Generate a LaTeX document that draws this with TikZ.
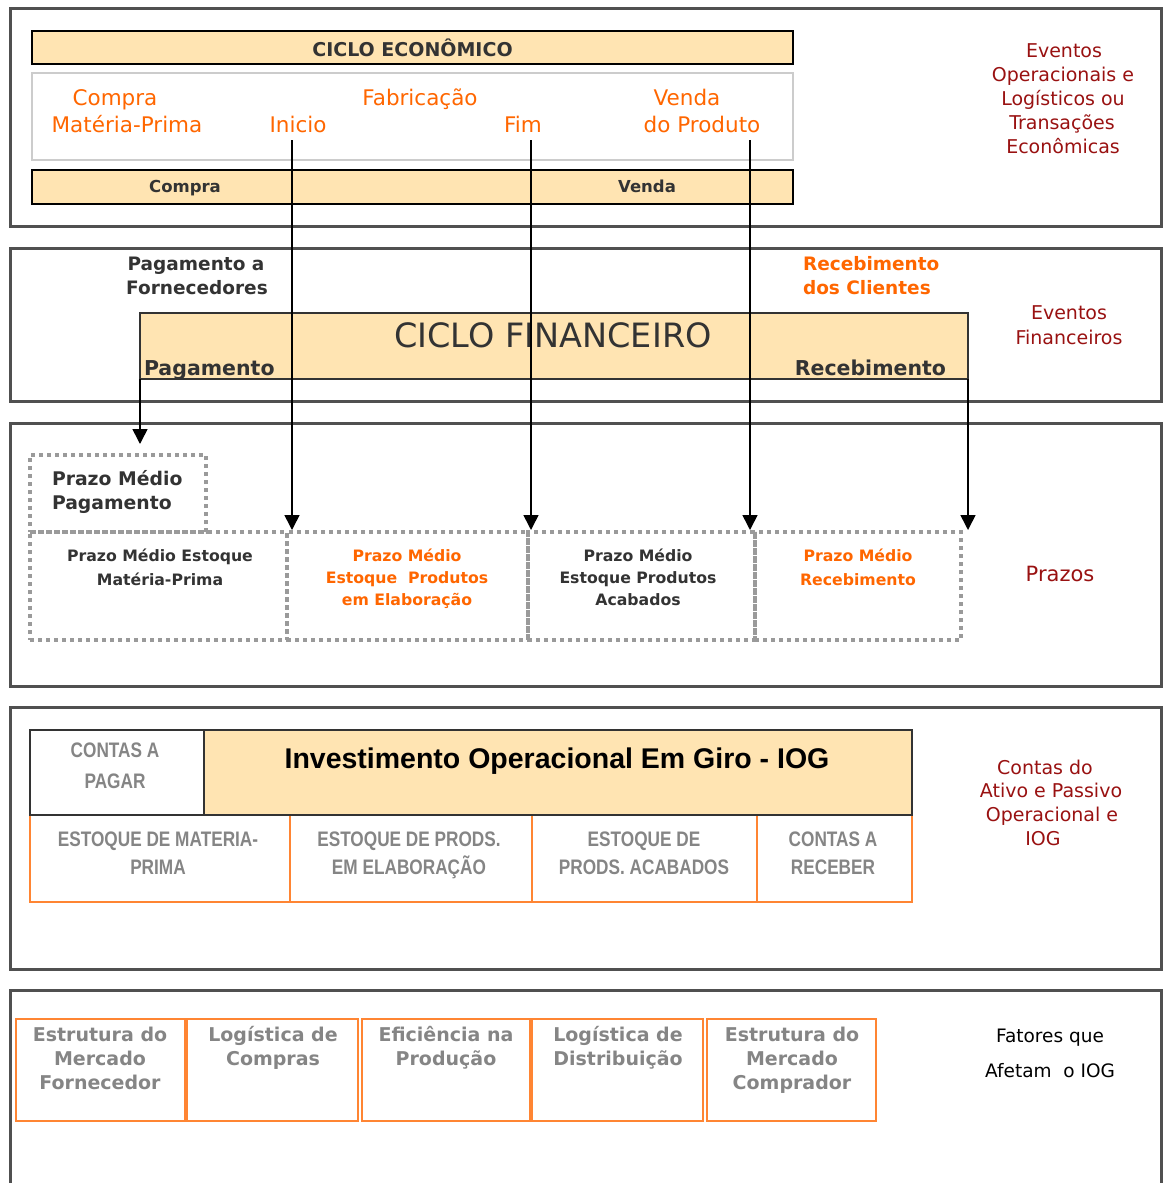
\documentclass[tikz,border=0pt]{standalone}
\usepackage{fontspec}
\setmainfont{DejaVu Sans}
\newfontfamily\narrowfont{Liberation Sans}[FakeStretch=0.82]
\newfontfamily\arialfont{Liberation Sans}
\usetikzlibrary{arrows.meta}
\definecolor{peach}{HTML}{FFE4B2}
\definecolor{orng}{HTML}{FF6600}
\definecolor{orline}{HTML}{FF8533}
\definecolor{dred}{HTML}{991111}
\definecolor{dtext}{HTML}{333333}
\definecolor{gtext}{HTML}{858585}
\definecolor{secline}{HTML}{505050}
\definecolor{dotc}{HTML}{9A9A9A}
\definecolor{wbline}{HTML}{CCCCCC}
\begin{document}
\begin{tikzpicture}[x=1pt,y=-1pt,
  lbl/.style={anchor=base, inner sep=0pt, outer sep=0pt},
  fs/.style={font=\fontsize{#1}{#1}\selectfont},
  fsb/.style={font=\fontsize{#1}{#1}\selectfont\bfseries},
  nfb/.style={font=\fontsize{#1}{#1}\selectfont\narrowfont\bfseries},
  box/.style={anchor=north west, inner sep=0pt, outer sep=0pt},
  sectbox/.style={box, draw=secline, line width=3pt},
  peachbar/.style={box, draw=black, line width=1.5pt, fill=peach},
  dotbox/.style={box, draw=dotc, line width=4pt, dash pattern=on 4pt off 4pt},
  orbox/.style={box, draw=orline, line width=2pt},
  arr/.style={draw=black, line width=1.6pt, -{Triangle[width=15pt,length=15pt]}},
  ortxt/.style={lbl, text=orng, fs=21.5},
  redtxt/.style={lbl, text=dred, fs=19},
]
\useasboundingbox (0,0) rectangle (1163,1183);

% ---------- section frames ----------
\node[sectbox, minimum width=1151pt, minimum height=218pt] (sec1) at (10,8) {};
\node[sectbox, minimum width=1151pt, minimum height=153pt] (sec2) at (10,248) {};
\node[sectbox, minimum width=1151pt, minimum height=263pt] (sec3) at (10,423) {};
\node[sectbox, minimum width=1151pt, minimum height=262pt] (sec4) at (10,707) {};
\draw[draw=secline, line width=3pt] (10,1183) -- (10,990) -- (1161,990) -- (1161,1183);

% ---------- section 1 ----------
\node[peachbar, minimum width=761pt, minimum height=33pt, text=dtext, fsb=19] (ce) at (32,31) {CICLO ECONÔMICO};
\node[box, draw=wbline, line width=1.5pt, minimum width=761pt, minimum height=87pt] (wb) at (32,73) {};
\node[peachbar, minimum width=761pt, minimum height=34pt] (cv) at (32,170) {};
\node[lbl, fsb=16.5, text=dtext] (cvA) at (185,192) {Compra};
\node[lbl, fsb=16.5, text=dtext] (cvB) at (647,192) {Venda};

\node[ortxt] (o1) at (115,105) {Compra};
\node[ortxt] (o2) at (127,132) {Matéria-Prima};
\node[ortxt] (o3) at (298,132) {Inicio};
\node[ortxt] (o4) at (420,105) {Fabricação};
\node[ortxt] (o5) at (523,132) {Fim};
\node[ortxt] (o6) at (687,105) {Venda};
\node[ortxt] (o7) at (702,132) {do Produto};

\node[redtxt] (r1) at (1064,57) {Eventos};
\node[redtxt] (r2) at (1063,81) {Operacionais e};
\node[redtxt] (r3) at (1063,105) {Logísticos ou};
\node[redtxt] (r4) at (1062,129) {Transações};
\node[redtxt] (r5) at (1063,153) {Econômicas};

% ---------- section 2 ----------
\node[lbl, fsb=18.5, text=dtext] (pf1) at (196,270) {Pagamento a};
\node[lbl, fsb=18.5, text=dtext] (pf2) at (197,294) {Fornecedores};
\node[lbl, anchor=base west, fsb=18.5, text=orng] (rc1) at (803,270) {Recebimento};
\node[lbl, anchor=base west, fsb=18.5, text=orng] (rc2) at (803,294) {dos Clientes};

\node[box, draw=dtext, line width=1.5pt, fill=peach, minimum width=828pt, minimum height=66pt] (cf) at (140,313) {};
\node[lbl, fs=33.5, text=dtext] (cft) at (553,347) {CICLO FINANCEIRO};
\node[lbl, anchor=base west, fsb=20.5, text=dtext] (cfp) at (144,375) {Pagamento};
\node[lbl, anchor=base east, fsb=20.5, text=dtext] (cfr) at (946,375) {Recebimento};

\node[redtxt] (r6) at (1069,319) {Eventos};
\node[redtxt] (r7) at (1069,344) {Financeiros};

% ---------- section 3 ----------
\node[dotbox, minimum width=176pt, minimum height=77pt] (pmp) at (30,455) {};
\node[dotbox, minimum width=257pt, minimum height=108pt] (pe1) at (30,532) {};
\node[dotbox, minimum width=241pt, minimum height=108pt] (pe2) at (287,532) {};
\node[dotbox, minimum width=227pt, minimum height=108pt] (pe3) at (528,532) {};
\node[dotbox, minimum width=206pt, minimum height=108pt] (pe4) at (755,532) {};

\node[lbl, anchor=base west, fsb=18.8, text=dtext] (pm1) at (52,485) {Prazo Médio};
\node[lbl, anchor=base west, fsb=18.8, text=dtext] (pm2) at (52,509) {Pagamento};

\node[lbl, fsb=15.7, text=dtext] (a1) at (160,561) {Prazo Médio Estoque};
\node[lbl, fsb=15.7, text=dtext] (a2) at (160,585) {Matéria-Prima};
\node[lbl, fsb=15.7, text=orng] (b1) at (407,561) {Prazo Médio};
\node[lbl, fsb=15.7, text=orng] (b2) at (407,583) {Estoque~ Produtos};
\node[lbl, fsb=15.7, text=orng] (b3) at (407,605) {em Elaboração};
\node[lbl, fsb=15.7, text=dtext] (c1) at (638,561) {Prazo Médio};
\node[lbl, fsb=15.7, text=dtext] (c2) at (638,583) {Estoque Produtos};
\node[lbl, fsb=15.7, text=dtext] (c3) at (638,605) {Acabados};
\node[lbl, fsb=15.7, text=orng] (d1) at (858,561) {Prazo Médio};
\node[lbl, fsb=15.7, text=orng] (d2) at (858,585) {Recebimento};

\node[lbl, text=dred, fs=21] (pz) at (1060,581) {Prazos};

% ---------- section 4 ----------
\node[orbox, minimum width=260pt, minimum height=87pt] (e1) at (30,815) {};
\node[orbox, minimum width=242pt, minimum height=87pt] (e2) at (290,815) {};
\node[orbox, minimum width=225pt, minimum height=87pt] (e3) at (532,815) {};
\node[orbox, minimum width=155pt, minimum height=87pt] (e4) at (757,815) {};
\node[box, draw=dtext, line width=1.5pt, fill=white, minimum width=174pt, minimum height=85pt] (cp) at (30,730) {};
\node[box, draw=dtext, line width=1.5pt, fill=peach, minimum width=708pt, minimum height=85pt] (iog) at (204,730) {};

\node[lbl, nfb=21, text=gtext] (cp1) at (115,757) {CONTAS A};
\node[lbl, nfb=21, text=gtext] (cp2) at (115,788) {PAGAR};
\node[lbl, font=\fontsize{28.5}{28.5}\selectfont\arialfont\bfseries, text=black] (iogt) at (557,768) {Investimento Operacional Em Giro - IOG};

\node[lbl, nfb=21, text=gtext] (e1a) at (158,846) {ESTOQUE DE MATERIA-};
\node[lbl, nfb=21, text=gtext] (e1b) at (158,874) {PRIMA};
\node[lbl, nfb=21, text=gtext] (e2a) at (409,846) {ESTOQUE DE PRODS.};
\node[lbl, nfb=21, text=gtext] (e2b) at (409,874) {EM ELABORAÇÃO};
\node[lbl, nfb=21, text=gtext] (e3a) at (644,846) {ESTOQUE DE};
\node[lbl, nfb=21, text=gtext] (e3b) at (644,874) {PRODS. ACABADOS};
\node[lbl, nfb=21, text=gtext] (e4a) at (833,846) {CONTAS A};
\node[lbl, nfb=21, text=gtext] (e4b) at (833,874) {RECEBER};

\node[redtxt] (r8) at (1045,774) {Contas do};
\node[redtxt] (r9) at (1051,797) {Ativo e Passivo};
\node[redtxt] (r10) at (1052,821) {Operacional e};
\node[redtxt] (r11) at (1043,845) {IOG};

% ---------- section 5 ----------
\node[orbox, minimum width=169pt, minimum height=102pt] (f1) at (16,1019) {};
\node[orbox, minimum width=171pt, minimum height=102pt] (f2) at (187,1019) {};
\node[orbox, minimum width=168pt, minimum height=102pt] (f3) at (362,1019) {};
\node[orbox, minimum width=171pt, minimum height=102pt] (f4) at (532,1019) {};
\node[orbox, minimum width=169pt, minimum height=102pt] (f5) at (707,1019) {};

\node[lbl, fsb=19, text=gtext] (f1a) at (100,1041) {Estrutura do};
\node[lbl, fsb=19, text=gtext] (f1b) at (100,1065) {Mercado};
\node[lbl, fsb=19, text=gtext] (f1c) at (100,1089) {Fornecedor};
\node[lbl, fsb=19, text=gtext] (f2a) at (273,1041) {Logística de};
\node[lbl, fsb=19, text=gtext] (f2b) at (273,1065) {Compras};
\node[lbl, fsb=19, text=gtext] (f3a) at (446,1041) {Eficiência na};
\node[lbl, fsb=19, text=gtext] (f3b) at (446,1065) {Produção};
\node[lbl, fsb=19, text=gtext] (f4a) at (618,1041) {Logística de};
\node[lbl, fsb=19, text=gtext] (f4b) at (618,1065) {Distribuição};
\node[lbl, fsb=19, text=gtext] (f5a) at (792,1041) {Estrutura do};
\node[lbl, fsb=19, text=gtext] (f5b) at (792,1065) {Mercado};
\node[lbl, fsb=19, text=gtext] (f5c) at (792,1089) {Comprador};

\node[lbl, fs=18.5, text=black] (ft1) at (1050,1042) {Fatores que};
\node[lbl, fs=18.5, text=black] (ft2) at (1050,1077) {Afetam~ o IOG};

% ---------- connectors ----------
\coordinate (s1) at (292,140);
\coordinate (s2) at (531,140);
\coordinate (s3) at (750,140);
\draw[arr, shorten >=2pt] (s1) -- (s1 |- pe2.north);
\draw[arr, shorten >=2pt] (s2) -- (s2 |- pe3.north);
\draw[arr, shorten >=2pt] (s3) -- (s3 |- pe4.north);
\draw[arr, shorten >=11pt] (cf.south west) -- (cf.south west |- pmp.north);
\draw[arr, shorten >=2pt] (cf.south east) -- (cf.south east |- pe4.north);
\end{tikzpicture}
\end{document}
